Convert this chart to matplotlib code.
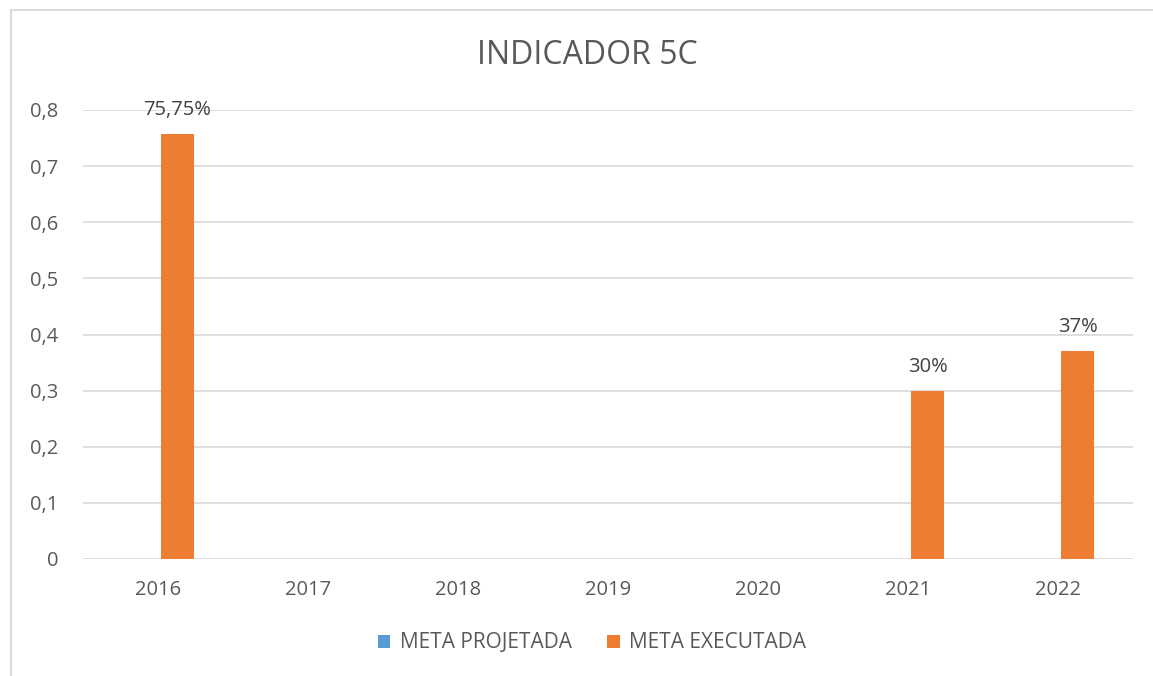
import numpy as np
import matplotlib.pyplot as plt
from matplotlib.patches import Rectangle

# chart data
years = ["2016", "2017", "2018", "2019", "2020", "2021", "2022"]
meta_projetada = [0, 0, 0, 0, 0, 0, 0]
meta_executada = [0.7575, None, None, None, None, 0.30, 0.37]
labels_executada = ["75,75%", "", "", "", "", "30%", "37%"]
y_ticks = [0, 0.1, 0.2, 0.3, 0.4, 0.5, 0.6, 0.7, 0.8]
y_tick_labels = ["0", "0,1", "0,2", "0,3", "0,4", "0,5", "0,6", "0,7", "0,8"]

plt.rcParams['font.family'] = ['Open Sans', 'DejaVu Sans']
text_color = '#595959'

fig = plt.figure(figsize=(11.53, 6.76), dpi=100)
fig.patches.append(Rectangle((11 / 1153, -0.1), 1.2, 1.1 - 10 / 676,
                             transform=fig.transFigure, fill=False,
                             edgecolor='#D9D9D9', linewidth=1.5))
ax = fig.add_axes([83 / 1153, 1 - 559 / 676, (1133 - 83) / 1153, (559 - 110) / 676])

x = np.arange(len(years))
width = 0.22
offset = 0.13
proj_vals = [v if v is not None else 0 for v in meta_projetada]
exec_vals = [v if v is not None else 0 for v in meta_executada]
ax.bar(x - offset, proj_vals, width, color='#5B9BD5', label='META PROJETADA', zorder=3)
bars = ax.bar(x + offset, exec_vals, width, color='#ED7D31', label='META EXECUTADA', zorder=3)

for b, lab in zip(bars, labels_executada):
    if lab:
        ax.annotate(lab, (b.get_x() + b.get_width() / 2, b.get_height()),
                    xytext=(0, 10), textcoords='offset points', ha='center', va='bottom',
                    fontsize=14.5, color='#404040')

ax.set_xlim(-0.5, len(years) - 0.5)
ax.set_ylim(0, 0.8)
ax.set_yticks(y_ticks)
ax.set_yticklabels(y_tick_labels)
ax.set_xticks(x)
ax.set_xticklabels(years)
ax.tick_params(length=0, labelsize=14.5, colors=text_color)
ax.tick_params(axis='x', pad=15)
ax.tick_params(axis='y', pad=18)
ax.grid(axis='y', color='#D9D9D9', linewidth=1.2, zorder=0)
for s in ax.spines.values():
    s.set_visible(False)

fig.text(587 / 1153, 1 - 55 / 676, "INDICADOR 5C", ha='center', va='center',
         fontsize=23, color=text_color)

fig.legend(loc='center', bbox_to_anchor=(592 / 1153, 1 - 643 / 676), ncol=2,
           frameon=False, fontsize=15, labelcolor=text_color, handlelength=0.6,
           handleheight=0.6, columnspacing=1.7, handletextpad=0.45)

fig.savefig('out.png', dpi=100)
